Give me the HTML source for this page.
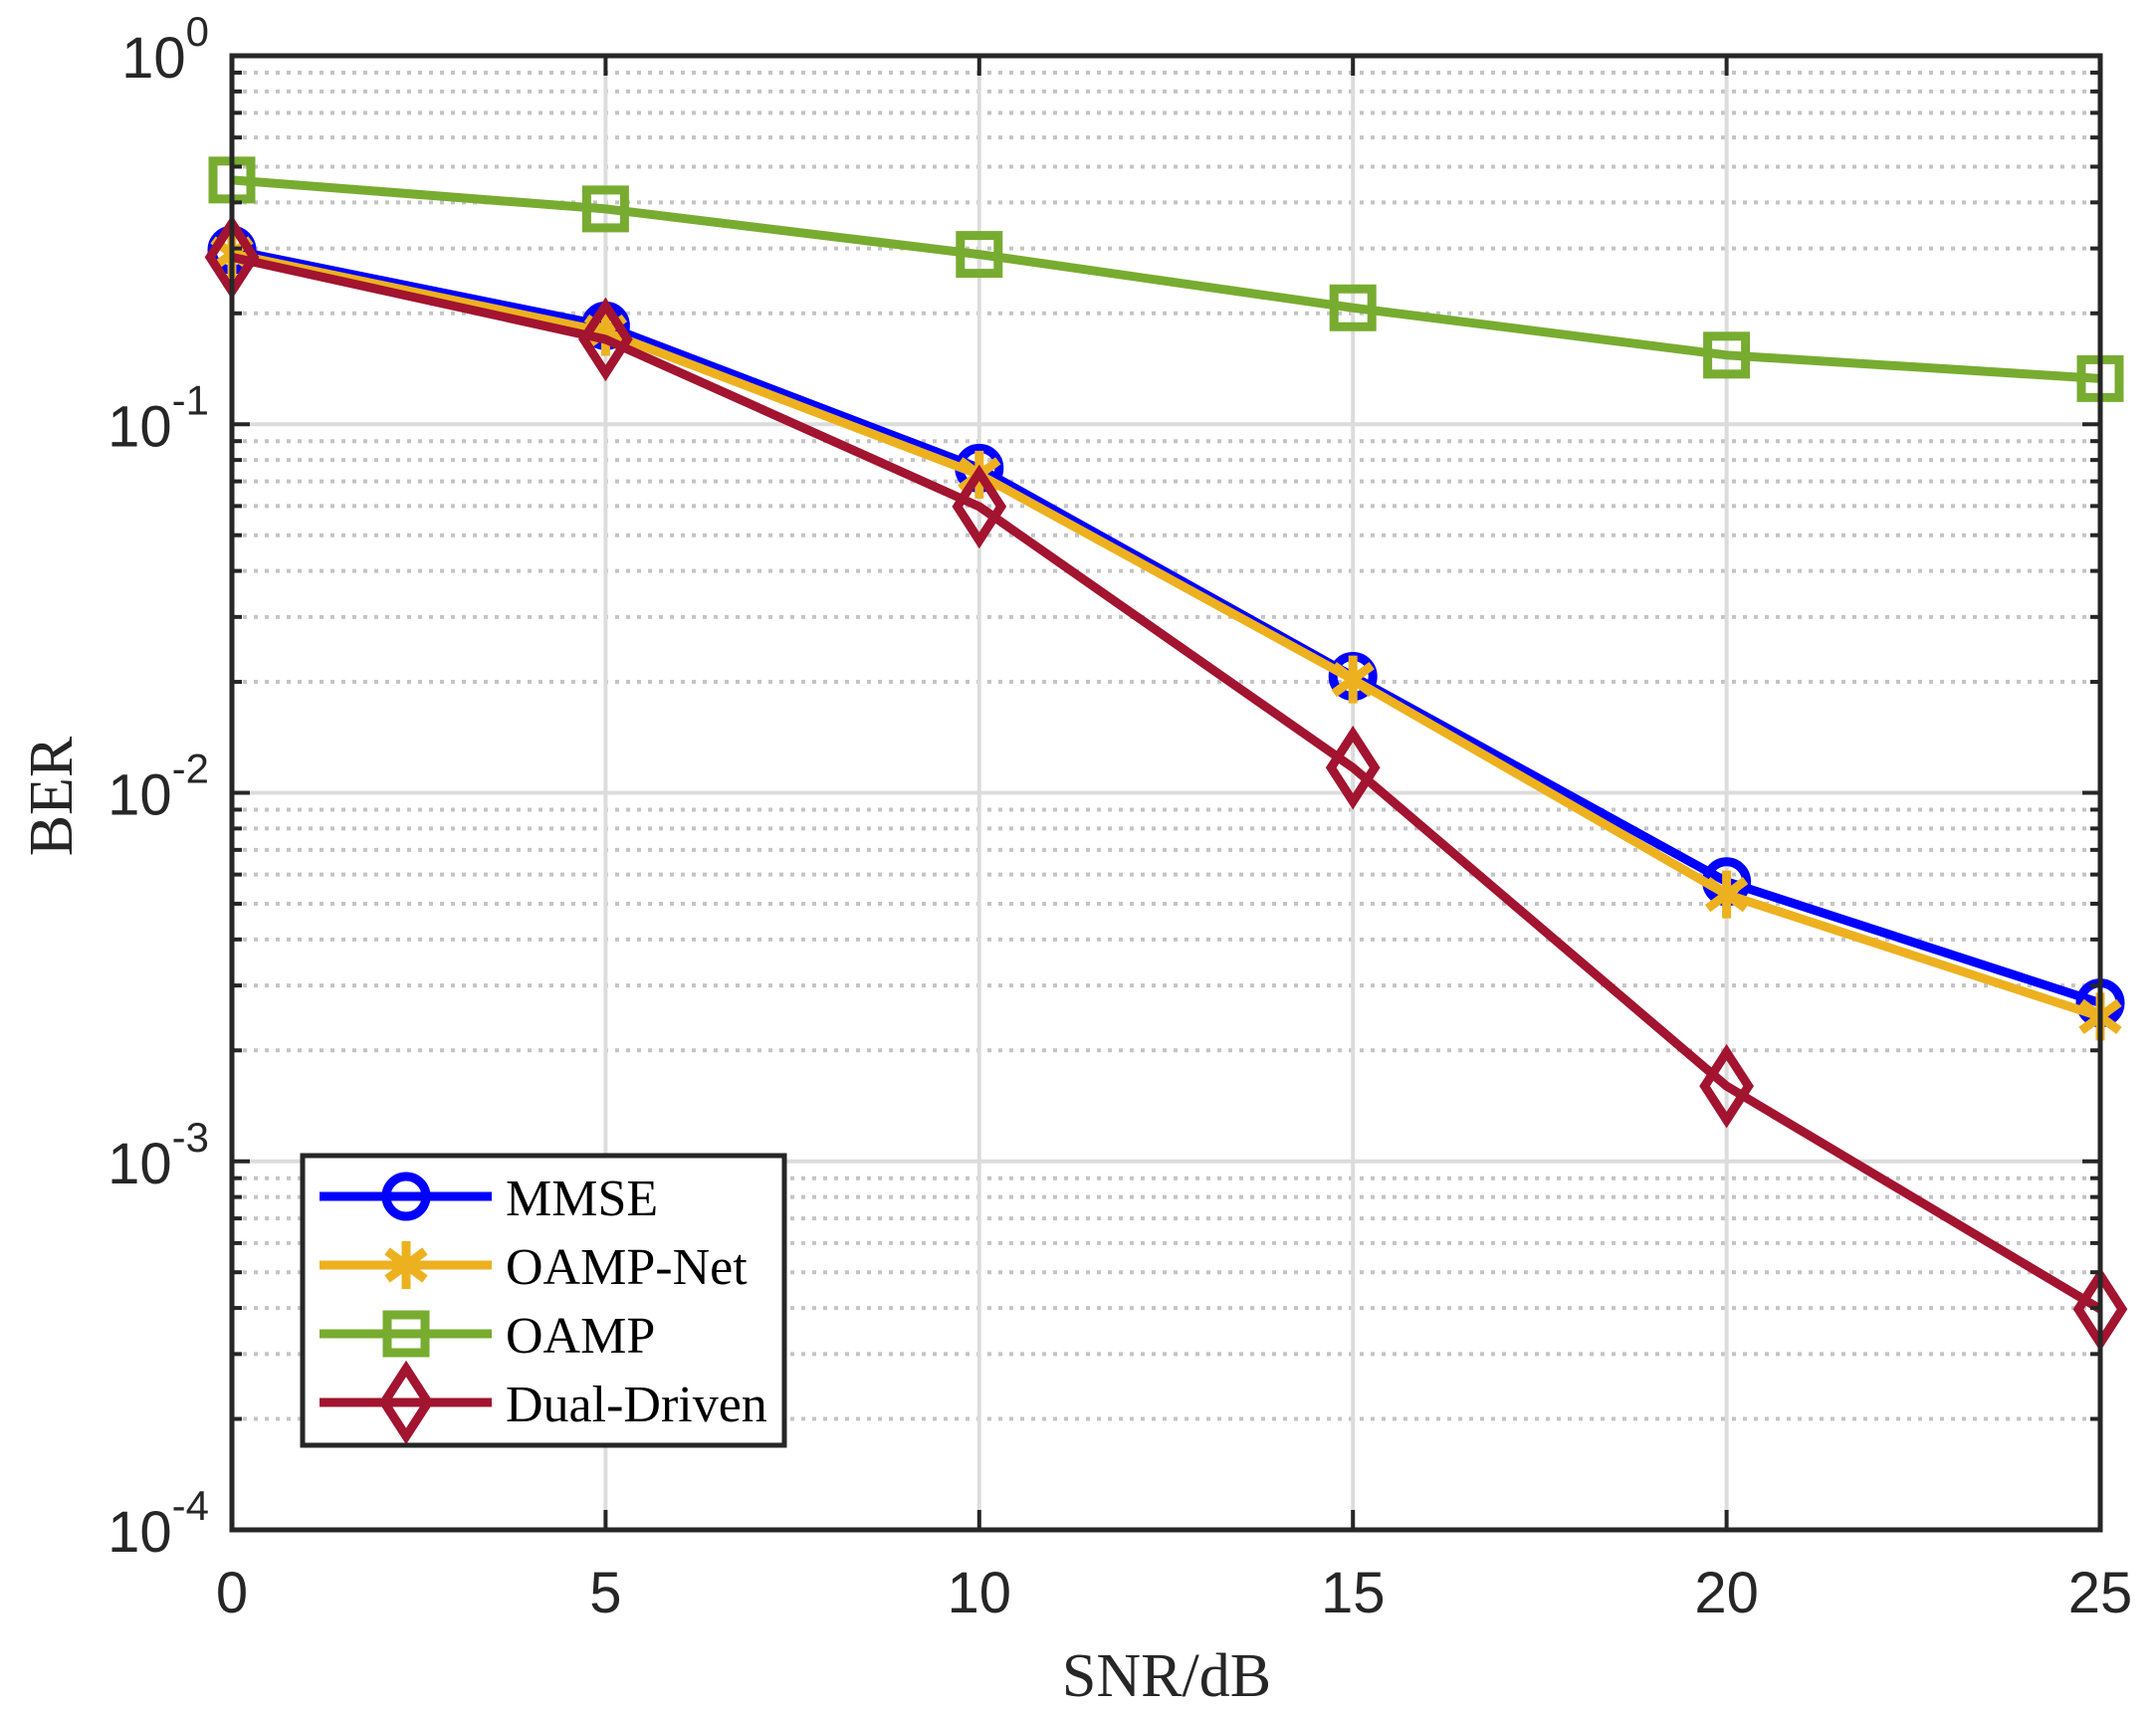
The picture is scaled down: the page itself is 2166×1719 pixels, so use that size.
<!DOCTYPE html>
<html><head><meta charset="utf-8">
<style>
html,body{margin:0;padding:0;background:#fff;}
svg{display:block;}
</style></head>
<body>
<svg id="chart" width="2166" height="1719" viewBox="0 0 2166 1719" xmlns="http://www.w3.org/2000/svg">
<rect x="0" y="0" width="2166" height="1719" fill="#fff"/>
<g id="grid"></g>
<g id="series"></g>
<g id="axes"></g>
<text x="1172" y="1704" font-family="Liberation Serif, serif" font-size="62" text-anchor="middle" fill="#262626">SNR/dB</text>
<text transform="translate(72,800) rotate(-90)" font-family="Liberation Serif, serif" font-size="62" text-anchor="middle" fill="#262626">BER</text>
<g id="legend"></g>
</svg>
<script>
const snr = [0, 5, 10, 15, 20, 25];
const mmse = [0.297, 0.185, 0.076, 0.0207, 0.00574, 0.00269];
const oampNet = [0.29, 0.178, 0.073, 0.0203, 0.0053, 0.00247];
const oamp = [0.46, 0.384, 0.289, 0.207, 0.154, 0.133];
const dual = [0.284, 0.17, 0.0598, 0.0117, 0.0016, 0.000397];
const xTicks = [0, 5, 10, 15, 20, 25];
const yDecades = [0, -1, -2, -3, -4];
const seriesNames = ['MMSE', 'OAMP-Net', 'OAMP', 'Dual-Driven'];

const X0 = 233, X1 = 2110, YT = 56, YB = 1537;
const NS = 'http://www.w3.org/2000/svg';
function xs(v){ return X0 + (v - 0) / 25 * (X1 - X0); }
function ys(v){ return YT + (0 - Math.log10(v)) / 4 * (YB - YT); }
function mk(tag, attrs, parent){
  const e = document.createElementNS(NS, tag);
  for (const k in attrs) e.setAttribute(k, attrs[k]);
  parent.appendChild(e);
  return e;
}
const grid = document.getElementById('grid');
const axes = document.getElementById('axes');
const series = document.getElementById('series');
const legend = document.getElementById('legend');

for (let d = -4; d < 0; d++) {
  for (let m = 2; m <= 9; m++) {
    const y = ys(m * Math.pow(10, d));
    const l = mk('line', {x1: X0, x2: X1, y1: y, y2: y, stroke: '#c4c4c4', 'stroke-width': 4, 'stroke-dasharray': '4 7'}, grid);
    
    
    const t1 = mk('line', {x1: X0, x2: X0 + 10, y1: y, y2: y, stroke: '#262626', 'stroke-width': 4}, axes);
    
    
    const t2 = mk('line', {x1: X1, x2: X1 - 10, y1: y, y2: y, stroke: '#262626', 'stroke-width': 4}, axes);
    
    
  }
}
yDecades.forEach(d => {
  const y = ys(Math.pow(10, d));
  const l = mk('line', {x1: X0, x2: X1, y1: y, y2: y, stroke: '#dcdcdc', 'stroke-width': 4}, grid);
  
  
  const t1 = mk('line', {x1: X0, x2: X0 + 18, y1: y, y2: y, stroke: '#262626', 'stroke-width': 4}, axes);
  
  
  const t2 = mk('line', {x1: X1, x2: X1 - 18, y1: y, y2: y, stroke: '#262626', 'stroke-width': 4}, axes);
  
  
  const tx = mk('text', {x: 210, y: y + 22, 'font-family': 'Liberation Sans, sans-serif', 'font-size': 58, 'text-anchor': 'end', fill: '#262626'}, axes);
  
  
  const base = mk('tspan', {}, tx); base.textContent = '10';
  const sup = mk('tspan', {dy: -32, 'font-size': 42}, tx); sup.textContent = String(d);
});
xTicks.forEach(v => {
  const x = xs(v);
  const l = mk('line', {x1: x, x2: x, y1: YT, y2: YB, stroke: '#dcdcdc', 'stroke-width': 4}, grid);
  
  
  const t1 = mk('line', {x1: x, x2: x, y1: YB, y2: YB - 20, stroke: '#262626', 'stroke-width': 4}, axes);
  
  
  const t2 = mk('line', {x1: x, x2: x, y1: YT, y2: YT + 20, stroke: '#262626', 'stroke-width': 4}, axes);
  
  
  const tx = mk('text', {x: x, y: 1620, 'font-family': 'Liberation Sans, sans-serif', 'font-size': 58, 'text-anchor': 'middle', fill: '#262626'}, axes);
  
  
  tx.textContent = String(v);
});
const box = mk('rect', {x: X0, y: YT, width: X1 - X0, height: YB - YT, fill: 'none', stroke: '#262626', 'stroke-width': 5}, axes);



function marker(type, x, y, color, parent){
  let e;
  if (type === 'circle') {
    e = mk('circle', {cx: x, cy: y, r: 20, fill: 'none', stroke: color, 'stroke-width': 9}, parent);
  } else if (type === 'square') {
    e = mk('rect', {x: x - 19, y: y - 19, width: 38, height: 38, fill: 'none', stroke: color, 'stroke-width': 9}, parent);
  } else if (type === 'diamond') {
    e = mk('polygon', {points: `${x},${y-34} ${x+22},${y} ${x},${y+34} ${x-22},${y}`, fill: 'none', stroke: color, 'stroke-width': 9}, parent);
  } else {
    e = mk('g', {stroke: color, 'stroke-width': 9}, parent);
    mk('line', {x1: x, x2: x, y1: y - 24, y2: y + 24}, e);
    mk('line', {x1: x - 19, x2: x + 19, y1: y - 14, y2: y + 14}, e);
    mk('line', {x1: x - 19, x2: x + 19, y1: y + 14, y2: y - 14}, e);
  }
  return e;
}
const defs = [
  {name: 'mmse', vals: mmse, color: '#0000ff', m: 'circle'},
  {name: 'oamp-net', vals: oampNet, color: '#edb120', m: 'star'},
  {name: 'oamp', vals: oamp, color: '#77ac30', m: 'square'},
  {name: 'dual-driven', vals: dual, color: '#a2142f', m: 'diamond'}
];
const lbg = mk('rect', {x: 304, y: 1161, width: 484, height: 291, fill: '#fff'}, legend);


defs.forEach((s, i) => {
  const g = mk('g', {}, series);
  
  
  const pts = s.vals.map((v, j) => xs(snr[j]) + ',' + ys(v)).join(' ');
  const pl = mk('polyline', {points: pts, fill: 'none', stroke: s.color, 'stroke-width': 9, 'stroke-linejoin': 'round'}, g);
  
  
  s.vals.forEach((v, j) => {
    const m = marker(s.m, xs(snr[j]), ys(v), s.color, g);
    
    
  });
  const ly = 1202 + i * 69;
  const lg = mk('g', {}, legend);
  
  
  mk('line', {x1: 321, x2: 494, y1: ly, y2: ly, stroke: s.color, 'stroke-width': 9}, lg);
  marker(s.m, 408, ly, s.color, lg);
  const t = mk('text', {x: 508, y: ly + 19, 'font-family': 'Liberation Serif, serif', 'font-size': 52, fill: '#000'}, lg);
  t.textContent = seriesNames[i];
});
const lb = mk('rect', {x: 304, y: 1161, width: 484, height: 291, fill: 'none', stroke: '#262626', 'stroke-width': 5}, legend);


</script>
</body></html>
